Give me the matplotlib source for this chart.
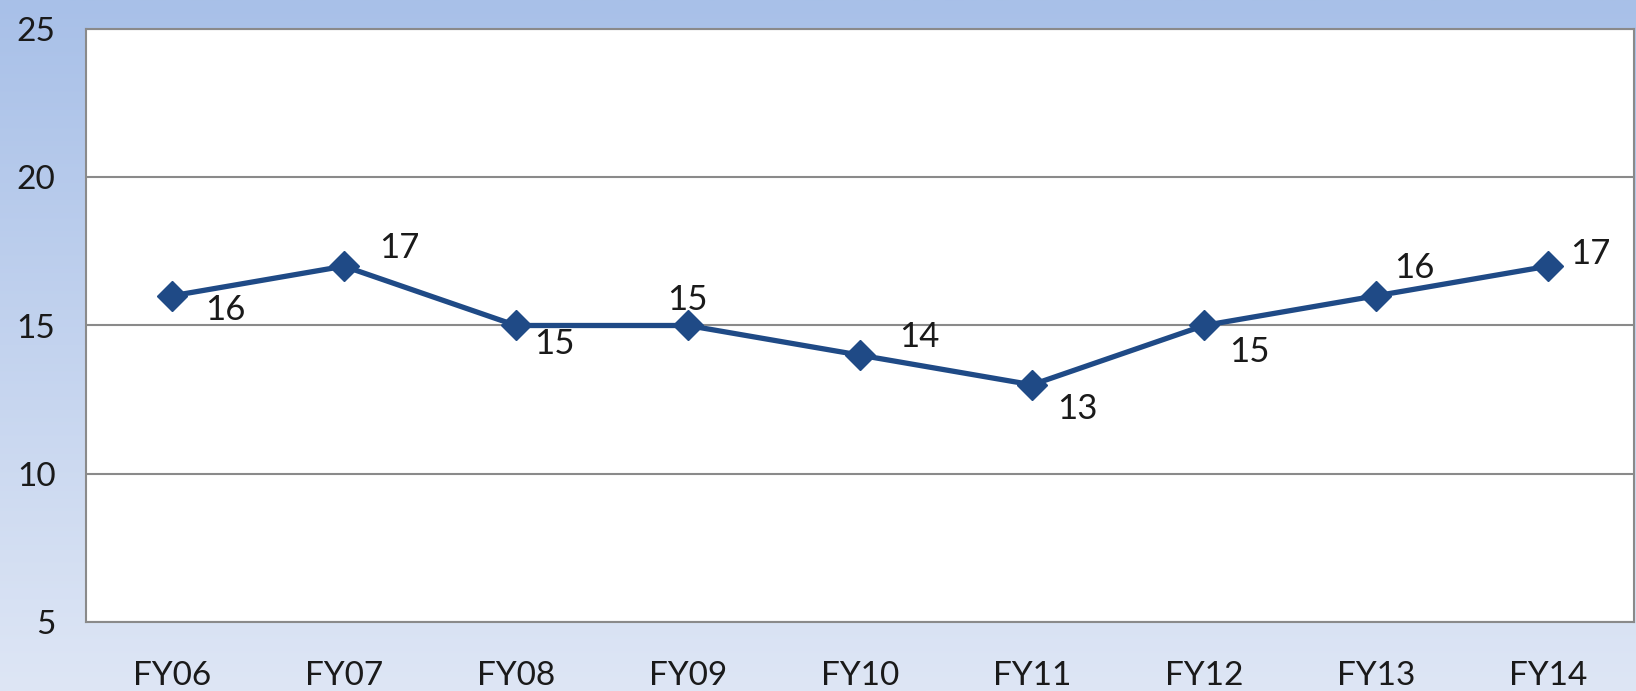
import matplotlib.pyplot as plt
import numpy as np

years = ["FY06", "FY07", "FY08", "FY09", "FY10", "FY11", "FY12", "FY13", "FY14"]
values = [16, 17, 15, 15, 14, 13, 15, 16, 17]
# label offsets in pixels (dx, dy), screen direction
label_offsets = [(53, -14), (55, 18), (38, -19), (-1, 25), (59, 18), (45, -24), (45, -26), (38, 28), (42, 12)]

plt.rcParams['font.family'] = ['Lato', 'DejaVu Sans']

fig = plt.figure(figsize=(16.36, 6.91), dpi=100)

# background gradient
bg = fig.add_axes([0, 0, 1, 1], zorder=-10)
grad = np.linspace(0, 1, 256).reshape(-1, 1)
top = np.array([168, 192, 232]) / 255
bot = np.array([222, 230, 245]) / 255
img = top + (bot - top) * grad[..., None]
bg.imshow(img, aspect='auto', extent=[0, 1, 0, 1])
bg.axis('off')

ax = fig.add_axes([86 / 1636, 1 - 622 / 691, (1634 - 86) / 1636, (622 - 29) / 691])
ax.set_facecolor('white')

x = np.arange(len(years))
ax.plot(x, values, color='#1f4a86', lw=3.8, marker='D', markersize=15, zorder=3)

for i, v in enumerate(values):
    dx, dy = label_offsets[i]
    ax.annotate(str(v), (x[i], v), xytext=(dx, dy), textcoords='offset pixels',
                ha='center', va='center', fontsize=25, color='#1a1a1a')

ax.set_ylim(5, 25)
ax.set_xlim(-0.5, 8.5)
ax.set_yticks([5, 10, 15, 20, 25])
ax.set_xticks(x)
ax.set_xticklabels(years)
ax.tick_params(axis='both', length=0, labelsize=24, colors='#1a1a1a')
ax.tick_params(axis='y', pad=22)
ax.tick_params(axis='x', pad=28)
ax.yaxis.grid(True, color='#8a8a8a', lw=1.5)
ax.set_axisbelow(True)
for s in ax.spines.values():
    s.set_color('#8a8a8a')
    s.set_linewidth(1.5)

fig.savefig('out.png', dpi=100)
